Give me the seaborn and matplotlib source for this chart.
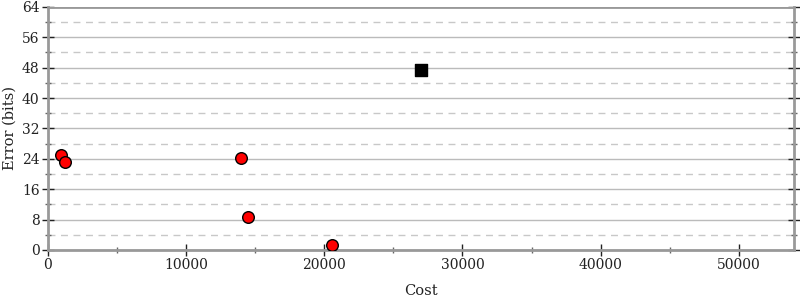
import matplotlib
matplotlib.use("Agg")
import matplotlib.pyplot as plt
import seaborn as sns
import pandas as pd
from matplotlib.ticker import MultipleLocator

cost = [950, 1250, 14000, 14450, 20550]
error = [25.1, 23.2, 24.3, 8.6, 1.3]
best_cost = [27000]
best_error = [47.4]

sns.set_theme(style="white")
plt.rcParams['font.family'] = ['DejaVu Serif']

fig = plt.figure(figsize=(8, 3), dpi=100)
ax = fig.add_axes([0.06, 0.167, 0.9325, 0.81])

df = pd.DataFrame({"Cost": cost, "Error": error})
dfb = pd.DataFrame({"Cost": best_cost, "Error": best_error})
sns.scatterplot(data=df, x="Cost", y="Error", ax=ax, color="red", edgecolor="black",
                linewidth=1, s=70, zorder=5)
sns.scatterplot(data=dfb, x="Cost", y="Error", ax=ax, color="black", marker="s",
                edgecolor="black", linewidth=1, s=80, zorder=5)

ax.set_xlim(0, 54000)
ax.set_ylim(0, 64)
ax.xaxis.set_major_locator(MultipleLocator(10000))
ax.xaxis.set_minor_locator(MultipleLocator(5000))
ax.yaxis.set_major_locator(MultipleLocator(8))
ax.yaxis.set_minor_locator(MultipleLocator(4))

ax.grid(True, which="major", axis="y", color="#bbbbbb", linewidth=1, linestyle="-")
ax.grid(True, which="minor", axis="y", color="#c8c8c8", linewidth=1, linestyle=(0, (5, 4)))
ax.set_axisbelow(True)

for side in ["left", "bottom", "right"]:
    ax.spines[side].set_color("#999999")
    ax.spines[side].set_linewidth(2)
ax.spines["top"].set_visible(False)
ax.axhline(64, color="#999999", linewidth=2, zorder=1)

ax.tick_params(axis="both", which="major", direction="inout", length=8, width=1,
               color="#222222", labelsize=10, labelcolor="#222222", pad=2)
ax.tick_params(axis="both", which="minor", direction="inout", length=5, width=1,
               color="#666666")
ax.tick_params(axis="y", which="both", right=True, left=True)
ax.tick_params(axis="x", which="both", bottom=True, top=False)

ax.set_xlabel("Cost", fontsize=10.5, color="#222222")
ax.xaxis.set_label_coords(0.5, -0.14)
ax.set_ylabel("Error (bits)", fontsize=10.5, color="#222222", labelpad=4)

fig.savefig("out.png", dpi=100)
